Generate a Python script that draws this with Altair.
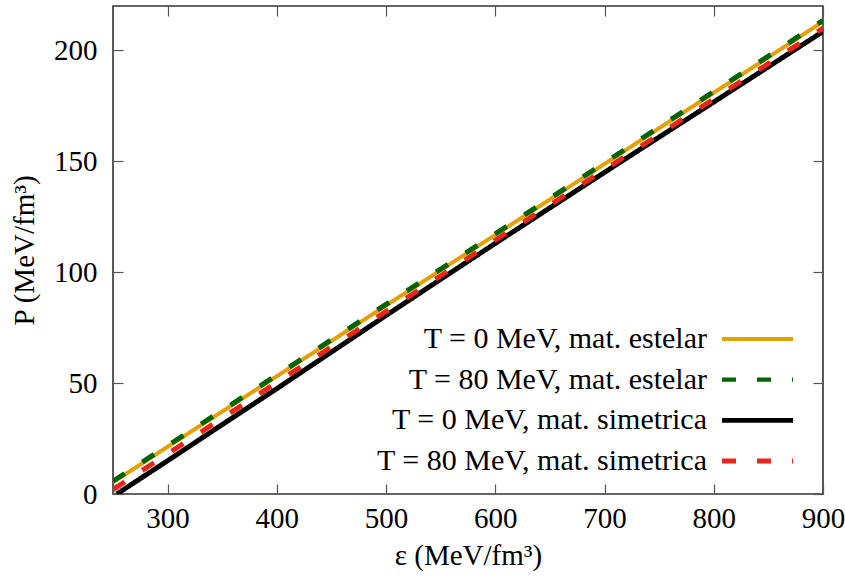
import altair as alt
import pandas as pd

# ---- data ----
eps_estelar_T0 = [250, 300, 350, 400, 450, 500, 550, 600, 650, 700, 750, 800, 850, 900]
P_estelar_T0 = [5.3, 21.3, 37.2, 53.1, 69.0, 85.0, 100.9, 116.8, 132.8, 148.8, 164.9, 180.9, 196.9, 213.0]

eps_estelar_T80 = [250, 300, 350, 400, 450, 500, 550, 600, 650, 700, 750, 800, 850, 900]
P_estelar_T80 = [5.8, 21.8, 37.7, 53.6, 69.5, 85.5, 101.4, 117.3, 133.3, 149.3, 165.4, 181.4, 197.4, 213.5]

eps_sim_T0 = [253.5, 300, 350, 400, 450, 500, 550, 600, 650, 700, 750, 800, 850, 900]
P_sim_T0 = [0.0, 15.0, 31.3, 47.5, 64.0, 80.5, 96.8, 113.0, 129.0, 145.0, 160.9, 176.7, 192.6, 208.5]

eps_sim_T80 = [250, 300, 350, 400, 450, 500, 550, 600, 650, 700, 750, 800, 850, 900]
P_sim_T80 = [2.0, 18.1, 34.2, 50.3, 66.3, 82.3, 98.4, 114.4, 130.3, 146.2, 162.1, 178.1, 194.0, 210.0]

labels = [
    "T = 0 MeV, mat. estelar",
    "T = 80 MeV, mat. estelar",
    "T = 0 MeV, mat. simetrica",
    "T = 80 MeV, mat. simetrica",
]
colors = ["#E69F00", "#006400", "#000000", "#E8251A"]
dashes = [[1, 0], [14, 21], [1, 0], [14, 21]]
widths = [4, 5, 5, 5]

x_ticks = [300, 400, 500, 600, 700, 800, 900]
y_ticks = [0, 50, 100, 150, 200]
x_domain = [250, 900]
y_domain = [0, 220]

FONT = "Liberation Serif"
FS = 29
FS_LEG = 30

xs = alt.Scale(domain=x_domain, nice=False, zero=False)
ys = alt.Scale(domain=y_domain, nice=False, zero=False)

tick_style = dict(domain=False, tickSize=10, offset=-10, tickColor="#555555",
                  tickWidth=1.2, grid=False)
text_style = dict(labelFont=FONT, labelFontSize=FS, labelColor="black",
                  labelFlush=False, labelOverlap=False, labelBound=False,
                  titleFont=FONT, titleFontSize=FS, titleColor="black",
                  titleFontWeight="normal")

x_bottom = alt.Axis(orient="bottom", values=x_ticks, labelPadding=10,
                    title="ε (MeV/fm³)", titlePadding=8, **tick_style, **text_style)
y_left = alt.Axis(orient="left", values=y_ticks, labelPadding=16,
                  title="P (MeV/fm³)", titlePadding=14, **tick_style, **text_style)
x_top = alt.Axis(orient="top", values=x_ticks, labels=False, title=None, **tick_style)
y_right = alt.Axis(orient="right", values=y_ticks, labels=False, title=None, **tick_style)


def series_df(e, p):
    return pd.DataFrame({"eps": e, "P": p})


def line_layer(e, p, i, xa, ya):
    return alt.Chart(series_df(e, p)).mark_line(
        color=colors[i], strokeWidth=widths[i], strokeDash=dashes[i], clip=True
    ).encode(
        x=alt.X("eps:Q", scale=xs, axis=xa),
        y=alt.Y("P:Q", scale=ys, axis=ya),
    )


l0 = line_layer(eps_estelar_T0, P_estelar_T0, 0, x_bottom, y_left)
l1 = line_layer(eps_estelar_T80, P_estelar_T80, 1, x_top, y_right)
l2 = line_layer(eps_sim_T0, P_sim_T0, 2, None, None)
l3 = line_layer(eps_sim_T80, P_sim_T80, 3, None, None)

lines = alt.layer(l0, l1, l2, l3).resolve_axis(x="independent", y="independent")

leg_df = pd.DataFrame({"label": labels, "row": [0, 1, 2, 3]})
row_scale = alt.Scale(domain=[0, 3], range=[333, 455], nice=False, zero=False)

leg_text = alt.Chart(leg_df).mark_text(
    align="right", baseline="middle", font=FONT, fontSize=FS_LEG, color="black"
).encode(
    x=alt.value(594),
    y=alt.Y("row:Q", scale=row_scale, axis=None),
    text="label:N",
)

leg_rule = alt.Chart(leg_df).mark_rule().encode(
    x=alt.value(609),
    x2=alt.value(680),
    y=alt.Y("row:Q", scale=row_scale, axis=None),
    color=alt.Color("label:N", scale=alt.Scale(domain=labels, range=colors), legend=None),
    strokeDash=alt.StrokeDash("label:N", scale=alt.Scale(domain=labels, range=dashes), legend=None),
    strokeWidth=alt.StrokeWidth("label:N", scale=alt.Scale(domain=labels, range=widths), legend=None),
)

legend = alt.layer(leg_text, leg_rule)

chart = alt.layer(lines, legend).resolve_scale(y="independent").properties(
    width=710,
    height=488,
    padding={"left": 113, "top": 6, "right": 22, "bottom": 87},
    autosize=alt.AutoSizeParams(type="none"),
    background="white",
).configure_view(stroke="#333333", strokeWidth=1.6)

chart.save("out.html", embed_options={"renderer": "svg", "actions": False})
